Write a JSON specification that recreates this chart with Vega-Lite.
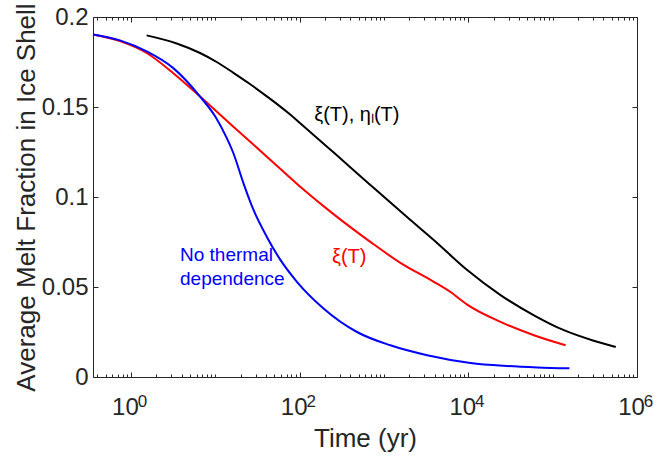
{
  "$schema": "https://vega.github.io/schema/vega-lite/v6.json",
  "width": 544,
  "height": 360,
  "autosize": {"type": "none"},
  "padding": {"left": 93, "top": 17, "right": 21, "bottom": 79},
  "background": "white",
  "config": {
    "font": "Liberation Sans",
    "view": {"stroke": null},
    "axis": {
      "grid": false,
      "domainColor": "#262626",
      "tickColor": "#262626",
      "labelColor": "#262626",
      "titleColor": "#262626",
      "labelFont": "Liberation Sans",
      "titleFont": "Liberation Sans",
      "labelFontSize": 24,
      "titleFontSize": 26,
      "titleFontWeight": "normal",
      "labelOverlap": false,
      "labelFlush": false,
      "domainWidth": 1,
      "tickWidth": 1
    }
  },
  "datasets": {
    "curves": [
      {"series": "eta", "t": 1.535, "v": 0.1898},
      {"series": "eta", "t": 3.49, "v": 0.1853},
      {"series": "eta", "t": 6.6, "v": 0.1800},
      {"series": "eta", "t": 10.4, "v": 0.1750},
      {"series": "eta", "t": 16.4, "v": 0.1690},
      {"series": "eta", "t": 25, "v": 0.1632},
      {"series": "eta", "t": 42, "v": 0.1555},
      {"series": "eta", "t": 77.3, "v": 0.1458},
      {"series": "eta", "t": 101.6, "v": 0.1410},
      {"series": "eta", "t": 252, "v": 0.1248},
      {"series": "eta", "t": 689, "v": 0.1067},
      {"series": "eta", "t": 2060, "v": 0.0872},
      {"series": "eta", "t": 3890, "v": 0.0761},
      {"series": "eta", "t": 9700, "v": 0.0594},
      {"series": "eta", "t": 24100, "v": 0.0455},
      {"series": "eta", "t": 60000, "v": 0.0343},
      {"series": "eta", "t": 136000, "v": 0.0260},
      {"series": "eta", "t": 300000, "v": 0.0203},
      {"series": "eta", "t": 560000, "v": 0.0167},
      {"series": "xi", "t": 0.355, "v": 0.1903},
      {"series": "xi", "t": 0.74, "v": 0.1866},
      {"series": "xi", "t": 1.535, "v": 0.1800},
      {"series": "xi", "t": 3.18, "v": 0.1688},
      {"series": "xi", "t": 6.6, "v": 0.1558},
      {"series": "xi", "t": 16.4, "v": 0.1390},
      {"series": "xi", "t": 40.9, "v": 0.1224},
      {"series": "xi", "t": 101.6, "v": 0.1057},
      {"series": "xi", "t": 252, "v": 0.0905},
      {"series": "xi", "t": 689, "v": 0.0751},
      {"series": "xi", "t": 1566, "v": 0.0634},
      {"series": "xi", "t": 3890, "v": 0.0529},
      {"series": "xi", "t": 6150, "v": 0.0472},
      {"series": "xi", "t": 9700, "v": 0.0402},
      {"series": "xi", "t": 24100, "v": 0.0306},
      {"series": "xi", "t": 60000, "v": 0.0232},
      {"series": "xi", "t": 142600, "v": 0.0176},
      {"series": "none", "t": 0.355, "v": 0.1903},
      {"series": "none", "t": 0.74, "v": 0.1870},
      {"series": "none", "t": 1.535, "v": 0.1809},
      {"series": "none", "t": 3.18, "v": 0.1716},
      {"series": "none", "t": 6.6, "v": 0.1558},
      {"series": "none", "t": 10.0, "v": 0.1447},
      {"series": "none", "t": 13.7, "v": 0.1327},
      {"series": "none", "t": 16.4, "v": 0.1243},
      {"series": "none", "t": 21.6, "v": 0.1076},
      {"series": "none", "t": 28.4, "v": 0.0928},
      {"series": "none", "t": 40.9, "v": 0.0778},
      {"series": "none", "t": 58.9, "v": 0.0652},
      {"series": "none", "t": 92.9, "v": 0.0529},
      {"series": "none", "t": 192, "v": 0.0381},
      {"series": "none", "t": 479, "v": 0.0250},
      {"series": "none", "t": 1191, "v": 0.0176},
      {"series": "none", "t": 3250, "v": 0.0121},
      {"series": "none", "t": 10620, "v": 0.0078},
      {"series": "none", "t": 26300, "v": 0.0062},
      {"series": "none", "t": 65800, "v": 0.0053},
      {"series": "none", "t": 158000, "v": 0.0048}
    ],
    "labelBlack": [{"t": 149, "v": 0.1456, "label": "ξ(T), ηₗ(T)"}],
    "labelRed": [{"t": 242, "v": 0.0668, "label": "ξ(T)"}],
    "labelBlue": [
      {"t": 3.82, "v": 0.0677, "label": "No thermal"},
      {"t": 3.82, "v": 0.0542, "label": "dependence"}
    ]
  },
  "resolve": {"axis": {"x": "independent", "y": "independent"}},
  "layer": [
    {
      "data": {"name": "curves"},
      "mark": {"type": "line", "strokeWidth": 2, "interpolate": "monotone"},
      "encoding": {
        "x": {
          "field": "t", "type": "quantitative",
          "scale": {"type": "log", "domain": [0.355, 1000000], "nice": false},
          "axis": {
            "orient": "bottom",
            "title": "Time (yr)",
            "values": [0.4,0.5,0.6,0.7,0.8,0.9,1,2,3,4,5,6,7,8,9,10,20,30,40,50,60,70,80,90,100,200,300,400,500,600,700,800,900,1000,2000,3000,4000,5000,6000,7000,8000,9000,10000,20000,30000,40000,50000,60000,70000,80000,90000,100000,200000,300000,400000,500000,600000,700000,800000,900000,1000000],
            "labelExpr": "datum.value == 1 || datum.value == 100 || datum.value == 10000 || datum.value == 1000000 ? '10' : ''",
            "labelOffset": -6,
            "tickSize": {"condition": {"test": "datum.value == 1 || datum.value == 100 || datum.value == 10000 || datum.value == 1000000", "value": -5}, "value": -3},
            "labelPadding": 23,
            "titlePadding": 4
          }
        },
        "y": {
          "field": "v", "type": "quantitative",
          "scale": {"domain": [0, 0.2], "nice": false, "zero": false},
          "axis": {
            "orient": "left",
            "title": "Average Melt Fraction in Ice Shell",
            "values": [0, 0.05, 0.1, 0.15, 0.2],
            "format": ".2~f",
            "tickSize": -5,
            "labelPadding": 10,
            "titlePadding": 2
          }
        },
        "color": {
          "field": "series", "type": "nominal",
          "scale": {"domain": ["eta", "xi", "none"], "range": ["#000000", "#ff0000", "#0000ff"]},
          "legend": null
        }
      }
    },
    {
      "data": {"name": "labelBlack"},
      "mark": {"type": "text", "align": "left", "baseline": "middle", "fontSize": 20, "color": "#000000"},
      "encoding": {
        "x": {
          "field": "t", "type": "quantitative",
          "scale": {"type": "log", "domain": [0.355, 1000000], "nice": false},
          "axis": {
            "orient": "top",
            "title": null,
            "labels": false,
            "values": [0.4,0.5,0.6,0.7,0.8,0.9,1,2,3,4,5,6,7,8,9,10,20,30,40,50,60,70,80,90,100,200,300,400,500,600,700,800,900,1000,2000,3000,4000,5000,6000,7000,8000,9000,10000,20000,30000,40000,50000,60000,70000,80000,90000,100000,200000,300000,400000,500000,600000,700000,800000,900000,1000000],
            "tickSize": {"condition": {"test": "datum.value == 1 || datum.value == 100 || datum.value == 10000 || datum.value == 1000000", "value": -5}, "value": -3}
          }
        },
        "y": {
          "field": "v", "type": "quantitative",
          "scale": {"domain": [0, 0.2], "nice": false, "zero": false},
          "axis": {
            "orient": "right",
            "title": null,
            "labels": false,
            "values": [0, 0.05, 0.1, 0.15, 0.2],
            "tickSize": -5
          }
        },
        "text": {"field": "label"}
      }
    },
    {
      "data": {"name": "labelRed"},
      "mark": {"type": "text", "align": "left", "baseline": "middle", "fontSize": 20, "color": "#ff0000"},
      "encoding": {
        "x": {
          "field": "t", "type": "quantitative",
          "scale": {"type": "log", "domain": [0.355, 1000000], "nice": false},
          "axis": {
            "orient": "bottom",
            "title": null,
            "domain": false,
            "ticks": false,
            "values": [1, 100, 10000, 1000000],
            "labelExpr": "datum.value == 1 ? '0' : datum.value == 100 ? '2' : datum.value == 10000 ? '4' : '6'",
            "labelFontSize": 17,
            "labelOffset": 11,
            "labelPadding": 16
          }
        },
        "y": {"field": "v", "type": "quantitative", "scale": {"domain": [0, 0.2], "nice": false, "zero": false}, "axis": null},
        "text": {"field": "label"}
      }
    },
    {
      "data": {"name": "labelBlue"},
      "mark": {"type": "text", "align": "left", "baseline": "middle", "fontSize": 19, "color": "#0000ff"},
      "encoding": {
        "x": {"field": "t", "type": "quantitative", "scale": {"type": "log", "domain": [0.355, 1000000], "nice": false}, "axis": null},
        "y": {"field": "v", "type": "quantitative", "scale": {"domain": [0, 0.2], "nice": false, "zero": false}, "axis": null},
        "text": {"field": "label"}
      }
    }
  ]
}
